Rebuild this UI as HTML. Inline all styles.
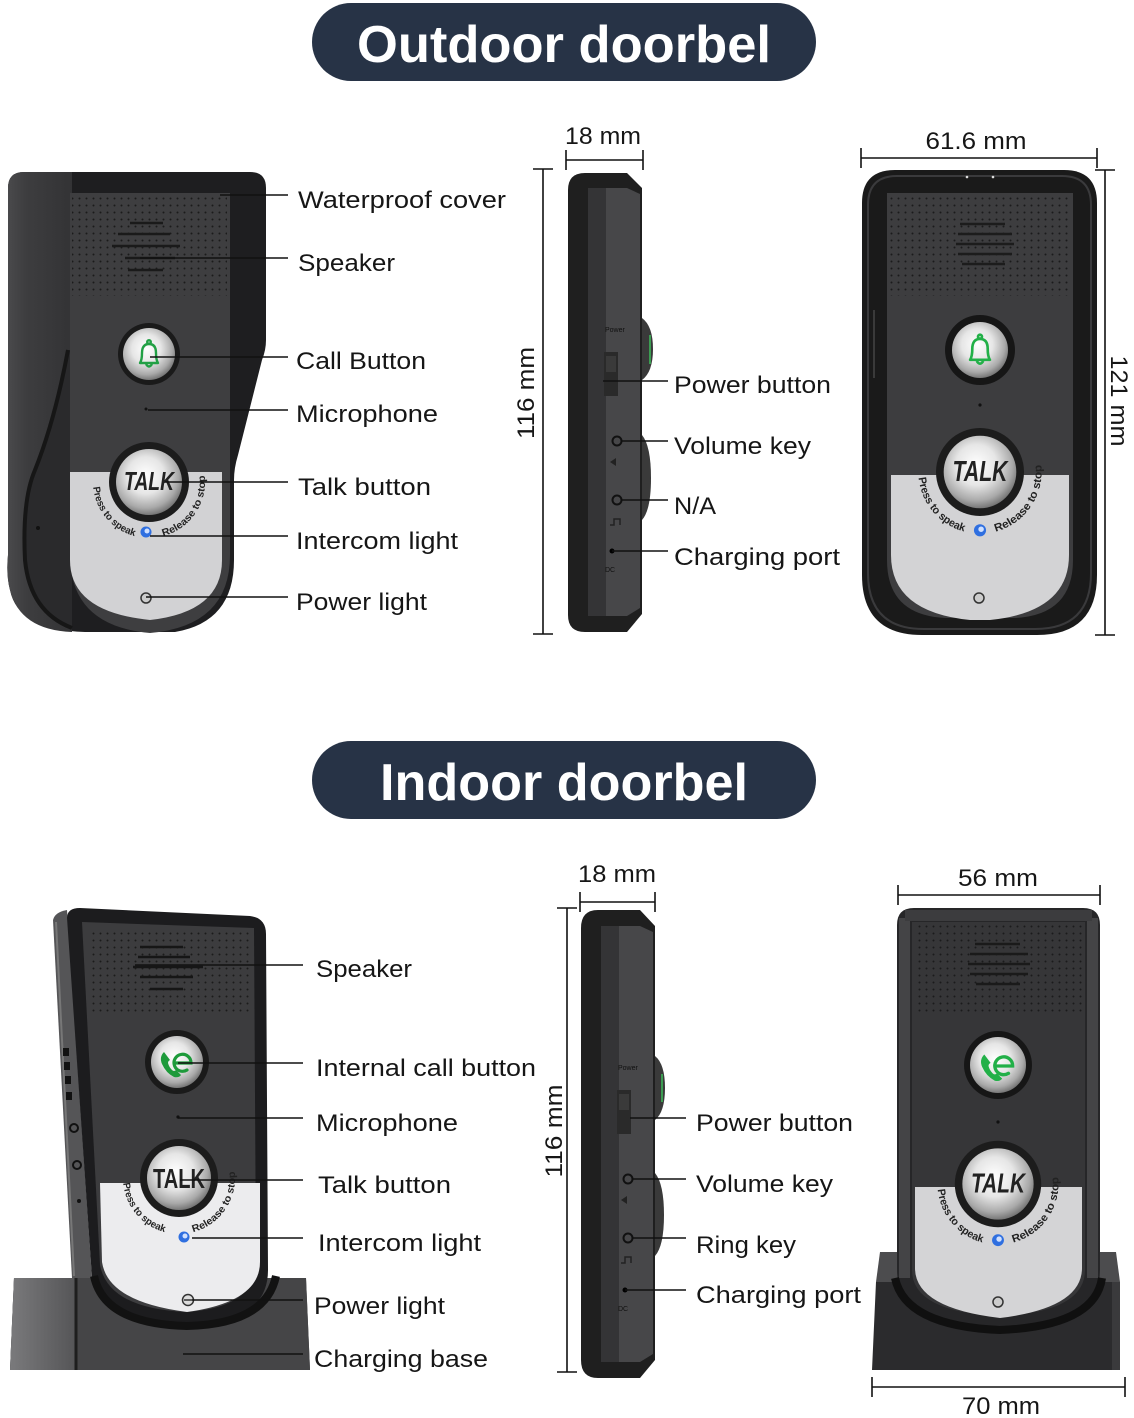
<!DOCTYPE html>
<html><head><meta charset="utf-8"><style>
html,body{margin:0;padding:0;background:#fff;}
svg{display:block;}
.lb{font-family:"Liberation Sans",sans-serif;font-size:24px;fill:#161616;}
.ttl{font-family:"Liberation Sans",sans-serif;font-size:52px;font-weight:bold;fill:#fff;}
.arc{font-family:"Liberation Sans",sans-serif;font-size:10px;font-weight:bold;fill:#222;}
.tiny{font-family:"Liberation Sans",sans-serif;font-size:7px;fill:#111;}
</style></head><body>
<svg width="1134" height="1418" viewBox="0 0 1134 1418" xmlns="http://www.w3.org/2000/svg">
<defs>
<pattern id="dots" width="7" height="7" patternUnits="userSpaceOnUse"><circle cx="2.5" cy="2.5" r="1" fill="#1b1b1b"/></pattern>
<radialGradient id="silv" cx="45%" cy="40%" r="62%"><stop offset="0" stop-color="#ffffff"/><stop offset="0.45" stop-color="#e6e6e6"/><stop offset="0.8" stop-color="#a9a9a9"/><stop offset="1" stop-color="#6e6e6e"/></radialGradient>
<linearGradient id="lside" x1="0" x2="1"><stop offset="0" stop-color="#4a4a4c"/><stop offset="0.3" stop-color="#3d3d3f"/><stop offset="1" stop-color="#333335"/></linearGradient>
<linearGradient id="bleft" x1="0" x2="1"><stop offset="0" stop-color="#7a7a7c"/><stop offset="1" stop-color="#555557"/></linearGradient>
<path id="arcp" d="M-55.79,-4.88 A56,56 0 1 0 54.09,-14.49" fill="none"/>
</defs>

<!-- Titles -->
<rect x="312" y="3" width="504" height="78" rx="39" fill="#273346"/>
<text class="ttl" x="564" y="62" text-anchor="middle" textLength="414" lengthAdjust="spacingAndGlyphs">Outdoor doorbel</text>
<rect x="312" y="741" width="504" height="78" rx="39" fill="#273346"/>
<text class="ttl" x="564" y="800" text-anchor="middle" textLength="368" lengthAdjust="spacingAndGlyphs">Indoor doorbel</text>

<!-- ============ OUTDOOR LEFT ============ -->
<path d="M8,188 Q8,172 24,172 H250 Q266,172 266,188 V340 Q266,350 262,360 L238,455 Q234,468 234,480 V560 Q234,622 175,632 H85 Q18,630 10,590 Q6,575 8,555 Z" fill="#1e1e20"/>
<path d="M8,188 Q8,172 24,172 H72 V632 Q20,630 10,590 Q6,575 8,555 Z" fill="url(#lside)"/>
<path d="M68,350 Q55,420 35,470 Q22,500 25,560 Q30,612 72,628 V350 Z" fill="#2a2a2c"/>
<path d="M68,350 Q55,420 35,470 Q22,500 25,560 Q30,612 72,628" fill="none" stroke="#161616" stroke-width="4"/>
<circle cx="38" cy="528" r="2" fill="#111"/>
<path d="M70,193 H230 V555 Q230,626 150,633 Q70,626 70,555 Z" fill="#3e3e40"/>
<rect x="72" y="196" width="155" height="100" fill="url(#dots)"/>
<g stroke="#1a1a1a" stroke-width="2.5">
<line x1="130" y1="223" x2="163" y2="223"/><line x1="118" y1="234" x2="170" y2="234"/><line x1="112" y1="246" x2="180" y2="246"/><line x1="125" y1="258" x2="175" y2="258"/><line x1="128" y1="270" x2="163" y2="270"/>
</g>
<circle cx="149" cy="354" r="31" fill="#1a1a1a"/>
<circle cx="149" cy="354" r="26" fill="url(#silv)"/>
<g transform="translate(149,355)" fill="none" stroke="#22a045" stroke-width="2.4" stroke-linejoin="round">
<path d="M-9,8 Q-7,5 -7,-2 Q-7,-11 0,-11 Q7,-11 7,-2 Q7,5 9,8 Z"/><circle cx="0" cy="-13" r="1.8"/><path d="M-3,9 Q0,14 3,9"/></g>
<circle cx="146" cy="409" r="1.5" fill="#111"/>
<path d="M70,472 H222 V560 Q222,612 150,620 Q70,612 70,560 Z" fill="#d2d2d4"/>
<g transform="translate(149,482)">
<circle r="40" fill="#1c1c1c"/><circle r="33" fill="url(#silv)"/>
<text x="0" y="8" text-anchor="middle" font-family="Liberation Sans,sans-serif" font-weight="bold" font-style="italic" font-size="26" fill="#222" textLength="50" lengthAdjust="spacingAndGlyphs">TALK</text>
<text class="arc"><textPath href="#arcp" startOffset="10" textLength="68" lengthAdjust="spacingAndGlyphs">Press to speak</textPath></text>
<text class="arc"><textPath href="#arcp" startOffset="107" textLength="80" lengthAdjust="spacingAndGlyphs">Release to stop</textPath></text>
<circle cx="-3" cy="50" r="5.5" fill="#2f6fe0"/><circle cx="-2" cy="49" r="2.5" fill="#cfe0ff"/>
</g>
<circle cx="146" cy="598" r="5" fill="#ccc" stroke="#333" stroke-width="1.5"/>

<!-- ============ OUTDOOR SIDE ============ -->
<line x1="543" y1="169" x2="543" y2="634" stroke="#111" stroke-width="1.6"/>
<line x1="533" y1="169" x2="553" y2="169" stroke="#111" stroke-width="1.6"/>
<line x1="533" y1="634" x2="553" y2="634" stroke="#111" stroke-width="1.6"/>
<line x1="566" y1="160" x2="643" y2="160" stroke="#111" stroke-width="1.6"/>
<line x1="566" y1="150" x2="566" y2="170" stroke="#111" stroke-width="1.6"/>
<line x1="643" y1="150" x2="643" y2="170" stroke="#111" stroke-width="1.6"/>
<text class="lb" x="603" y="144" text-anchor="middle" textLength="76" lengthAdjust="spacingAndGlyphs">18 mm</text>
<text class="lb" transform="translate(534,393) rotate(-90)" text-anchor="middle" textLength="92" lengthAdjust="spacingAndGlyphs">116 mm</text>
<path d="M642,318 Q653,326 653,349 Q653,372 642,380 Z" fill="#3a3a3a"/>
<line x1="650" y1="335" x2="650" y2="364" stroke="#3c9c52" stroke-width="2"/>
<path d="M642,435 Q651,446 651,478 Q651,510 642,520 Z" fill="#3a3a3a"/>
<path d="M568,190 Q568,173 585,173 H627 L642,188 V614 L627,632 H585 Q568,632 568,615 Z" fill="#1f1f1f"/>
<rect x="588" y="188" width="18" height="428" fill="#343436"/>
<path d="M606,188 H627 L640,194 V608 L627,616 H606 Z" fill="#474749"/>
<text class="tiny" x="605" y="332">Power</text>
<rect x="604" y="352" width="14" height="44" fill="#2a2a2a"/>
<rect x="606" y="356" width="10" height="16" fill="#3a3a3a"/>
<circle cx="617" cy="441" r="4.5" fill="none" stroke="#111" stroke-width="2"/>
<circle cx="617" cy="500" r="4.5" fill="none" stroke="#111" stroke-width="2"/>
<path d="M610,462 l6,-4 v8 z" fill="#222"/>
<path d="M610,525 h4 v-6 h6 v6" fill="none" stroke="#222" stroke-width="1.5"/>
<circle cx="612" cy="551" r="2.5" fill="#000"/>
<text class="tiny" x="605" y="572" fill="#2a2a2a">DC</text>

<!-- ============ OUTDOOR RIGHT ============ -->
<line x1="861" y1="158" x2="1097" y2="158" stroke="#111" stroke-width="1.6"/>
<line x1="861" y1="148" x2="861" y2="168" stroke="#111" stroke-width="1.6"/>
<line x1="1097" y1="148" x2="1097" y2="168" stroke="#111" stroke-width="1.6"/>
<line x1="1105" y1="170" x2="1105" y2="635" stroke="#111" stroke-width="1.6"/>
<line x1="1095" y1="170" x2="1115" y2="170" stroke="#111" stroke-width="1.6"/>
<line x1="1095" y1="635" x2="1115" y2="635" stroke="#111" stroke-width="1.6"/>
<text class="lb" x="976" y="149" text-anchor="middle" textLength="101" lengthAdjust="spacingAndGlyphs">61.6 mm</text>
<text class="lb" transform="translate(1111,401) rotate(90)" text-anchor="middle" textLength="91" lengthAdjust="spacingAndGlyphs">121 mm</text>
<path d="M895,170 H1064 Q1097,170 1097,203 V575 Q1097,635 1037,635 H922 Q862,635 862,575 V203 Q862,170 895,170 Z" fill="#1a1a1a"/>
<path d="M897,176 H1062 Q1091,176 1091,205 V573 Q1091,629 1035,629 H924 Q868,629 868,573 V205 Q868,176 897,176 Z" fill="none" stroke="#3a3a3c" stroke-width="2"/>
<circle cx="967" cy="177" r="1.3" fill="#ddd"/><circle cx="993" cy="177" r="1.3" fill="#ddd"/>
<line x1="874" y1="310" x2="874" y2="378" stroke="#3a3a3a" stroke-width="2"/>
<path d="M887,193 H1073 V560 Q1073,615 1015,618 H945 Q887,615 887,560 Z" fill="#3d3d3f"/>
<rect x="889" y="196" width="182" height="100" fill="url(#dots)"/>
<g stroke="#1c1c1c" stroke-width="2.5">
<line x1="960" y1="224" x2="1005" y2="224"/><line x1="958" y1="234" x2="1012" y2="234"/><line x1="956" y1="244" x2="1014" y2="244"/><line x1="958" y1="254" x2="1012" y2="254"/><line x1="962" y1="264" x2="1005" y2="264"/>
</g>
<circle cx="980" cy="350" r="35" fill="#161616"/>
<circle cx="980" cy="350" r="28" fill="url(#silv)"/>
<g transform="translate(980,351) scale(1.1)" fill="none" stroke="#22b048" stroke-width="2.4" stroke-linejoin="round">
<path d="M-9,8 Q-7,5 -7,-2 Q-7,-11 0,-11 Q7,-11 7,-2 Q7,5 9,8 Z"/><circle cx="0" cy="-13" r="1.8"/><path d="M-3,9 Q0,14 3,9"/></g>
<circle cx="980" cy="405" r="1.6" fill="#111"/>
<path d="M891,475 H1069 V555 Q1069,612 990,620 H970 Q891,612 891,555 Z" fill="#d3d3d5"/>
<g transform="translate(980,472) scale(1.1)">
<circle r="40" fill="#1c1c1c"/><circle r="33" fill="url(#silv)"/>
<text x="0" y="8" text-anchor="middle" font-family="Liberation Sans,sans-serif" font-weight="bold" font-style="italic" font-size="26" fill="#222" textLength="50" lengthAdjust="spacingAndGlyphs">TALK</text>
<text class="arc"><textPath href="#arcp" startOffset="10" textLength="68" lengthAdjust="spacingAndGlyphs">Press to speak</textPath></text>
<text class="arc"><textPath href="#arcp" startOffset="107" textLength="80" lengthAdjust="spacingAndGlyphs">Release to stop</textPath></text>
<circle cx="0" cy="53" r="5.5" fill="#2f6fe0"/><circle cx="1" cy="52" r="2.5" fill="#cfe0ff"/>
</g>
<circle cx="979" cy="598" r="5" fill="#ccc" stroke="#333" stroke-width="1.5"/>

<!-- outdoor labels -->
<g stroke="#111" stroke-width="1.6">
<line x1="220" y1="195" x2="288" y2="195"/>
<line x1="140" y1="258" x2="288" y2="258"/>
<line x1="150" y1="357" x2="288" y2="357"/>
<line x1="148" y1="410" x2="288" y2="410"/>
<line x1="165" y1="482" x2="288" y2="482"/>
<line x1="150" y1="536" x2="288" y2="536"/>
<line x1="146" y1="597" x2="288" y2="597"/>
<line x1="603" y1="381" x2="668" y2="381"/>
<line x1="621" y1="441" x2="668" y2="441"/>
<line x1="621" y1="500" x2="668" y2="500"/>
<line x1="612" y1="551" x2="668" y2="551"/>
</g>
<text class="lb" x="298" y="208" textLength="208" lengthAdjust="spacingAndGlyphs">Waterproof cover</text>
<text class="lb" x="298" y="271" textLength="97" lengthAdjust="spacingAndGlyphs">Speaker</text>
<text class="lb" x="296" y="369" textLength="130" lengthAdjust="spacingAndGlyphs">Call Button</text>
<text class="lb" x="296" y="422" textLength="142" lengthAdjust="spacingAndGlyphs">Microphone</text>
<text class="lb" x="298" y="495" textLength="133" lengthAdjust="spacingAndGlyphs">Talk button</text>
<text class="lb" x="296" y="549" textLength="162" lengthAdjust="spacingAndGlyphs">Intercom light</text>
<text class="lb" x="296" y="610" textLength="131" lengthAdjust="spacingAndGlyphs">Power light</text>
<text class="lb" x="674" y="393" textLength="157" lengthAdjust="spacingAndGlyphs">Power button</text>
<text class="lb" x="674" y="454" textLength="137" lengthAdjust="spacingAndGlyphs">Volume key</text>
<text class="lb" x="674" y="514" textLength="42" lengthAdjust="spacingAndGlyphs">N/A</text>
<text class="lb" x="674" y="565" textLength="166" lengthAdjust="spacingAndGlyphs">Charging port</text>

<!-- ============ INDOOR LEFT ============ -->
<path d="M14,1278 H306 L310,1370 H10 Z" fill="#444446"/>
<path d="M53,920 Q55,912 67,910 L92,1278 H72 Z" fill="#555557"/>
<path d="M56,922 L74,1276" stroke="#777" stroke-width="2"/>
<g fill="#111">
<rect x="63" y="1048" width="6" height="8"/><rect x="64" y="1062" width="6" height="8"/><rect x="65" y="1076" width="6" height="8"/><rect x="66" y="1092" width="6" height="8"/>
<circle cx="79" cy="1201" r="2"/></g>
<circle cx="74" cy="1128" r="4" fill="none" stroke="#111" stroke-width="2"/>
<circle cx="77" cy="1165" r="4" fill="none" stroke="#111" stroke-width="2"/>
<path d="M67,918 Q67,908 80,908 L250,916 Q266,918 266,934 L268,1270 Q268,1324 185,1326 Q100,1324 92,1278 Z" fill="#1c1c1e"/>
<path d="M82,922 L254,928 L256,1262 Q256,1308 185,1312 Q108,1308 100,1265 Z" fill="#3c3c3e"/>
<rect x="88" y="928" width="164" height="86" fill="url(#dots)"/>
<g stroke="#161616" stroke-width="2.5">
<line x1="140" y1="947" x2="183" y2="947"/><line x1="138" y1="957" x2="190" y2="957"/><line x1="133" y1="967" x2="203" y2="967"/><line x1="140" y1="977" x2="193" y2="977"/><line x1="150" y1="989" x2="183" y2="989"/>
</g>
<circle cx="177" cy="1062" r="32" fill="#1a1a1a"/>
<circle cx="177" cy="1062" r="26" fill="url(#silv)"/>
<g transform="translate(178,1063)">
<path d="M-14,-11 q-5,5 -2,12 q4,9 12,13 q5,1 7,-2 l-5,-5 q-2,2 -4,0 q-3,-3 -4,-7 q0,-2 2,-3 z" fill="#1d9a3a"/>
<path d="M-3,0 H13 A8.5,8.5 0 1 0 9,7" fill="none" stroke="#1d9a3a" stroke-width="3.2" stroke-linecap="round"/>
</g>
<circle cx="178" cy="1117" r="1.6" fill="#111"/>
<path d="M100,1183 H260 V1262 Q260,1302 187,1312 Q108,1302 102,1262 Z" fill="#ececee"/>
<g transform="translate(179,1178)">
<circle r="39" fill="#1c1c1c"/><circle r="32" fill="url(#silv)"/>
<text x="0" y="10" text-anchor="middle" font-family="Liberation Sans,sans-serif" font-weight="bold" font-size="28" fill="#222" textLength="52" lengthAdjust="spacingAndGlyphs">TALK</text>
<text class="arc"><textPath href="#arcp" startOffset="10" textLength="68" lengthAdjust="spacingAndGlyphs">Press to speak</textPath></text>
<text class="arc"><textPath href="#arcp" startOffset="107" textLength="80" lengthAdjust="spacingAndGlyphs">Release to stop</textPath></text>
<circle cx="5" cy="59" r="5.5" fill="#2f6fe0"/><circle cx="6" cy="58" r="2.5" fill="#cfe0ff"/>
</g>
<circle cx="188" cy="1300" r="5.5" fill="#ddd" stroke="#333" stroke-width="1.5"/>
<line x1="184" y1="1300" x2="192" y2="1300" stroke="#333" stroke-width="1.5"/>
<path d="M10,1370 L14,1278 H96 Q105,1326 187,1328 Q265,1326 275,1278 H306 L310,1370 Z" fill="#454547"/>
<path d="M10,1370 L14,1278 H76 V1370 Z" fill="url(#bleft)"/>
<line x1="76" y1="1278" x2="76" y2="1370" stroke="#1e1e1e" stroke-width="3"/>
<path d="M94,1276 Q104,1324 187,1326 Q266,1324 276,1276" fill="none" stroke="#121212" stroke-width="8"/>

<!-- ============ INDOOR SIDE ============ -->
<line x1="567" y1="908" x2="567" y2="1372" stroke="#111" stroke-width="1.6"/>
<line x1="557" y1="908" x2="577" y2="908" stroke="#111" stroke-width="1.6"/>
<line x1="557" y1="1372" x2="577" y2="1372" stroke="#111" stroke-width="1.6"/>
<line x1="580" y1="902" x2="655" y2="902" stroke="#111" stroke-width="1.6"/>
<line x1="580" y1="892" x2="580" y2="912" stroke="#111" stroke-width="1.6"/>
<line x1="655" y1="892" x2="655" y2="912" stroke="#111" stroke-width="1.6"/>
<text class="lb" x="617" y="882" text-anchor="middle" textLength="78" lengthAdjust="spacingAndGlyphs">18 mm</text>
<text class="lb" transform="translate(562,1131) rotate(-90)" text-anchor="middle" textLength="93" lengthAdjust="spacingAndGlyphs">116 mm</text>
<path d="M655,1056 Q665,1064 665,1088 Q665,1112 655,1120 Z" fill="#3a3a3a"/>
<line x1="662" y1="1074" x2="662" y2="1102" stroke="#3c9c52" stroke-width="2"/>
<path d="M655,1173 Q664,1184 664,1215 Q664,1246 655,1256 Z" fill="#3a3a3a"/>
<path d="M581,928 Q581,910 598,910 H640 L655,926 V1360 L640,1378 H598 Q581,1378 581,1360 Z" fill="#1f1f1f"/>
<rect x="601" y="926" width="18" height="436" fill="#343436"/>
<path d="M619,926 H640 L653,932 V1354 L640,1362 H619 Z" fill="#474749"/>
<text class="tiny" x="618" y="1070">Power</text>
<rect x="617" y="1090" width="14" height="44" fill="#2a2a2a"/>
<rect x="619" y="1094" width="10" height="16" fill="#3a3a3a"/>
<circle cx="628" cy="1179" r="4.5" fill="none" stroke="#111" stroke-width="2"/>
<circle cx="628" cy="1238" r="4.5" fill="none" stroke="#111" stroke-width="2"/>
<path d="M621,1200 l6,-4 v8 z" fill="#222"/>
<path d="M621,1263 h4 v-6 h6 v6" fill="none" stroke="#222" stroke-width="1.5"/>
<circle cx="625" cy="1290" r="2.5" fill="#000"/>
<text class="tiny" x="618" y="1311" fill="#2a2a2a">DC</text>

<!-- ============ INDOOR RIGHT ============ -->
<line x1="898" y1="895" x2="1100" y2="895" stroke="#111" stroke-width="1.6"/>
<line x1="898" y1="885" x2="898" y2="905" stroke="#111" stroke-width="1.6"/>
<line x1="1100" y1="885" x2="1100" y2="905" stroke="#111" stroke-width="1.6"/>
<line x1="872" y1="1387" x2="1125" y2="1387" stroke="#111" stroke-width="1.6"/>
<line x1="872" y1="1377" x2="872" y2="1397" stroke="#111" stroke-width="1.6"/>
<line x1="1125" y1="1377" x2="1125" y2="1397" stroke="#111" stroke-width="1.6"/>
<text class="lb" x="998" y="886" text-anchor="middle" textLength="80" lengthAdjust="spacingAndGlyphs">56 mm</text>
<text class="lb" x="1001" y="1414" text-anchor="middle" textLength="78" lengthAdjust="spacingAndGlyphs">70 mm</text>
<path d="M880,1252 H1116 L1120,1282 H876 Z" fill="#4c4c4e"/>
<path d="M897,925 Q897,908 914,908 H1083 Q1100,908 1100,925 V1270 Q1100,1326 1000,1330 Q897,1326 897,1270 Z" fill="#262628"/>
<rect x="899" y="918" width="11" height="360" fill="#444446"/>
<rect x="1087" y="918" width="11" height="360" fill="#444446"/>
<rect x="905" y="910" width="187" height="11" fill="#3c3c3e"/>
<path d="M912,922 H1085 V1270 Q1085,1312 1000,1316 Q912,1312 912,1270 Z" fill="#363638"/>
<rect x="914" y="925" width="170" height="88" fill="url(#dots)"/>
<g stroke="#1a1a1a" stroke-width="2.5">
<line x1="975" y1="944" x2="1020" y2="944"/><line x1="970" y1="954" x2="1028" y2="954"/><line x1="968" y1="964" x2="1030" y2="964"/><line x1="970" y1="974" x2="1028" y2="974"/><line x1="976" y1="984" x2="1020" y2="984"/>
</g>
<circle cx="998" cy="1065" r="34" fill="#161616"/>
<circle cx="998" cy="1065" r="28" fill="url(#silv)"/>
<g transform="translate(999,1066) scale(1.05)">
<path d="M-14,-11 q-5,5 -2,12 q4,9 12,13 q5,1 7,-2 l-5,-5 q-2,2 -4,0 q-3,-3 -4,-7 q0,-2 2,-3 z" fill="#22b048"/>
<path d="M-3,0 H13 A8.5,8.5 0 1 0 9,7" fill="none" stroke="#22b048" stroke-width="3.2" stroke-linecap="round"/>
</g>
<circle cx="998" cy="1122" r="1.6" fill="#111"/>
<path d="M915,1187 H1082 V1268 Q1082,1308 1000,1318 Q915,1308 915,1268 Z" fill="#d4d4d6"/>
<g transform="translate(998,1184) scale(1.08)">
<circle r="40" fill="#1c1c1c"/><circle r="33" fill="url(#silv)"/>
<text x="0" y="8" text-anchor="middle" font-family="Liberation Sans,sans-serif" font-weight="bold" font-style="italic" font-size="26" fill="#222" textLength="50" lengthAdjust="spacingAndGlyphs">TALK</text>
<text class="arc"><textPath href="#arcp" startOffset="10" textLength="68" lengthAdjust="spacingAndGlyphs">Press to speak</textPath></text>
<text class="arc"><textPath href="#arcp" startOffset="107" textLength="80" lengthAdjust="spacingAndGlyphs">Release to stop</textPath></text>
<circle cx="0" cy="52" r="5.5" fill="#2f6fe0"/><circle cx="1" cy="51" r="2.5" fill="#cfe0ff"/>
</g>
<circle cx="998" cy="1302" r="5" fill="#ccc" stroke="#333" stroke-width="1.5"/>
<path d="M872,1370 L876,1282 H895 Q905,1328 1000,1332 Q1095,1328 1102,1282 H1120 V1370 Z" fill="#2b2b2d"/>
<path d="M895,1278 Q905,1326 1000,1330 Q1095,1326 1102,1278" fill="none" stroke="#101010" stroke-width="8"/>
<rect x="1112" y="1282" width="8" height="88" fill="#3a3a3c"/>

<!-- indoor labels -->
<g stroke="#111" stroke-width="1.6">
<line x1="135" y1="965" x2="303" y2="965"/>
<line x1="178" y1="1063" x2="303" y2="1063"/>
<line x1="178" y1="1118" x2="303" y2="1118"/>
<line x1="180" y1="1180" x2="303" y2="1180"/>
<line x1="192" y1="1238" x2="303" y2="1238"/>
<line x1="192" y1="1300" x2="303" y2="1300"/>
<line x1="183" y1="1354" x2="303" y2="1354"/>
<line x1="630" y1="1118" x2="686" y2="1118"/>
<line x1="632" y1="1179" x2="686" y2="1179"/>
<line x1="632" y1="1238" x2="686" y2="1238"/>
<line x1="625" y1="1290" x2="686" y2="1290"/>
</g>
<text class="lb" x="316" y="977" textLength="96" lengthAdjust="spacingAndGlyphs">Speaker</text>
<text class="lb" x="316" y="1076" textLength="220" lengthAdjust="spacingAndGlyphs">Internal call button</text>
<text class="lb" x="316" y="1131" textLength="142" lengthAdjust="spacingAndGlyphs">Microphone</text>
<text class="lb" x="318" y="1193" textLength="133" lengthAdjust="spacingAndGlyphs">Talk button</text>
<text class="lb" x="318" y="1251" textLength="163" lengthAdjust="spacingAndGlyphs">Intercom light</text>
<text class="lb" x="314" y="1314" textLength="131" lengthAdjust="spacingAndGlyphs">Power light</text>
<text class="lb" x="314" y="1367" textLength="174" lengthAdjust="spacingAndGlyphs">Charging base</text>
<text class="lb" x="696" y="1131" textLength="157" lengthAdjust="spacingAndGlyphs">Power button</text>
<text class="lb" x="696" y="1192" textLength="137" lengthAdjust="spacingAndGlyphs">Volume key</text>
<text class="lb" x="696" y="1253" textLength="100" lengthAdjust="spacingAndGlyphs">Ring key</text>
<text class="lb" x="696" y="1303" textLength="165" lengthAdjust="spacingAndGlyphs">Charging port</text>
</svg>
</body></html>
